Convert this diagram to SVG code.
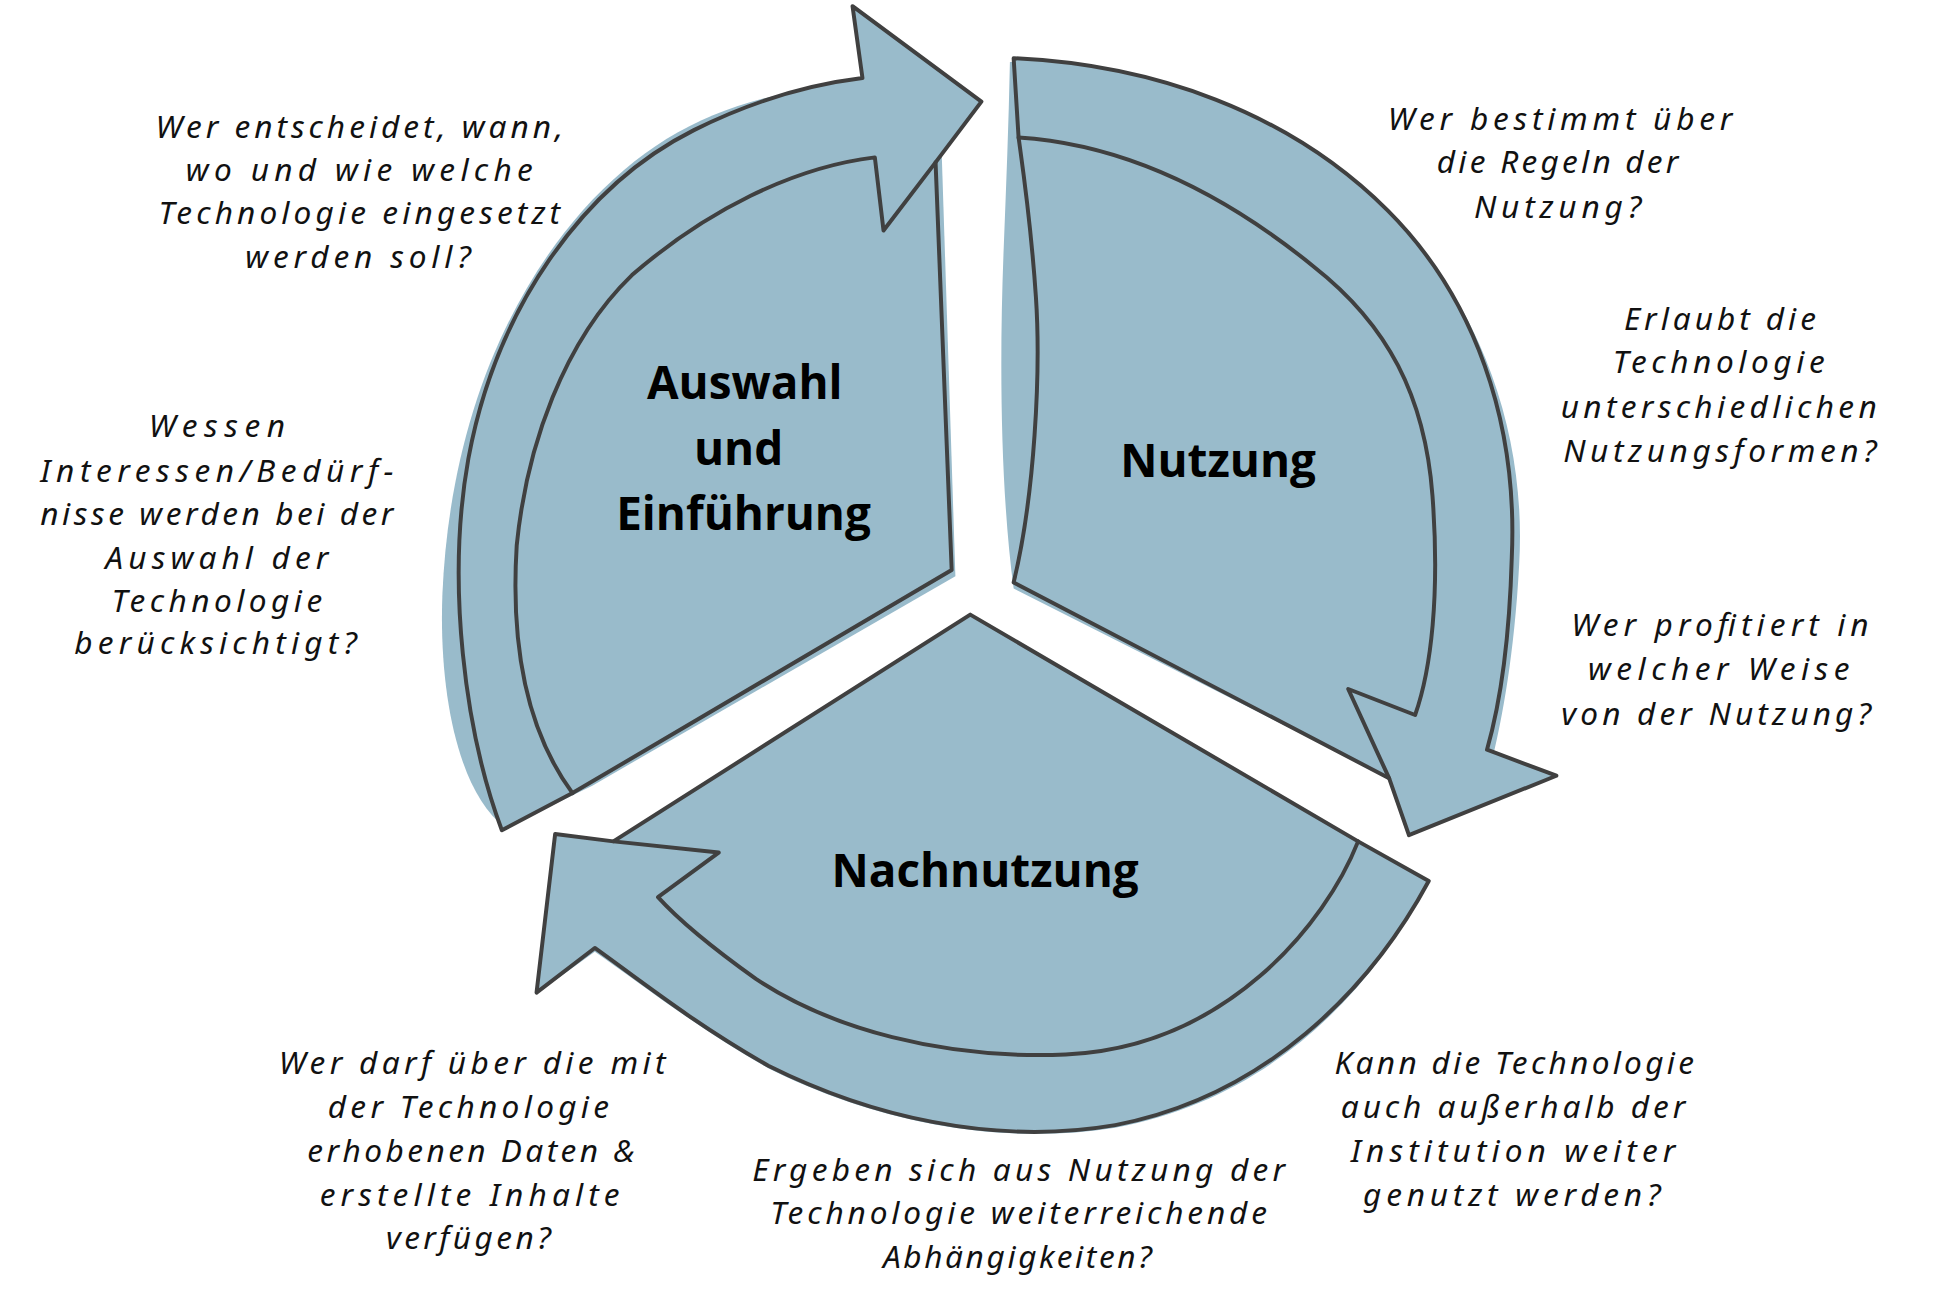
<svg xmlns="http://www.w3.org/2000/svg" width="1943" height="1306" viewBox="0 0 1943 1306">
<style>
.blob{fill:#99bbcb;stroke:none}
.shape{fill:#99bbcb;stroke:#404040;stroke-width:3.2;stroke-linejoin:round;stroke-linecap:round}
.line{fill:none;stroke:#404040;stroke-width:3.2;stroke-linejoin:round;stroke-linecap:round}
.lbl{font-family:"Open Sans","Noto Sans",sans-serif;font-weight:700;font-size:37px;fill:#000;text-anchor:middle}
.q{font-family:"Noto Sans","DejaVu Sans",sans-serif;font-style:italic;font-size:25.5px;fill:#111;text-anchor:middle}
</style>
<rect width="1943" height="1306" fill="#ffffff"/>
<g transform="scale(1.23916)">
<g id="connectors">
<g id="arrow-auswahl">
<path class="blob" d="M408,668 C370,640 354,560 357,480 C362,360 400,250 470,170 C520,115 570,88 640,74 L700,70 L760,125 L771,465 L478,634 Z"/>
<path class="shape" d="M405,670 C375,590 360,470 378,370 C400,250 470,150 560,105 C610,80 655,68 696,63 L688,5 L792,82 L755,131 C760,240 763,350 768,460 L462,640 Z"/>
<path class="line" d="M755,131 L713,186 L706,127 C640,135 570,170 510,222 C455,275 425,360 417,440 C412,520 425,590 462,640"/>
</g>
<g id="arrow-nutzung">
<path class="blob" d="M815,50 C930,52 1040,90 1120,170 C1195,245 1232,350 1226,455 C1222,530 1212,580 1205,610 L1255,626 L1137,674 L1121,628 L818,475 C808,400 806,300 810,200 C812,150 814,100 815,50 Z"/>
<path class="shape" d="M818,47 C930,52 1040,90 1120,170 C1190,240 1225,340 1220,450 C1218,520 1210,570 1200,605 L1256,626 L1137,674 L1121,628 L818,470 C835,400 840,300 836,240 C832,180 826,140 822,111 Z"/>
<path class="line" d="M822,111 C900,116 980,150 1060,215 C1120,262 1150,320 1156,400 C1162,480 1155,540 1142,577 L1088,556 L1121,628"/>
</g>
<g id="arrow-nachnutzung">
<path class="blob" d="M1150,716 C1103,806 1020,888 900,910 C800,926 700,902 620,862 C560,828 515,792 480,768 L433,802 L447,675 L505,684 L783,500 L1098,683 Z"/>
<path class="shape" d="M1153,711 C1105,800 1020,885 900,908 C800,925 700,900 620,860 C560,826 515,790 480,765 L433,801 L448,673 L495,679 L783,496 L1096,679 Z"/>
<path class="line" d="M1096,679 C1070,745 990,845 860,851 C760,855 670,830 610,790 C575,765 550,745 531,724 L580,688 L495,679"/>
</g>
</g>
<g id="node-auswahl">
<text class="lbl" x="601" y="322">Auswahl</text>
<text class="lbl" x="596" y="375">und</text>
<text class="lbl" x="600" y="428">Einführung</text>
</g>
<g id="node-nutzung">
<text class="lbl" x="983" y="385">Nutzung</text>
</g>
<g id="node-nachnutzung">
<text class="lbl" x="795" y="716">Nachnutzung</text>
</g>
<g id="q-entscheidet">
<text class="q" x="290" y="111" textLength="329" lengthAdjust="spacing">Wer entscheidet, wann,</text>
<text class="q" x="290" y="146" textLength="280" lengthAdjust="spacing">wo und wie welche</text>
<text class="q" x="290" y="181" textLength="324" lengthAdjust="spacing">Technologie eingesetzt</text>
<text class="q" x="289" y="216" textLength="182" lengthAdjust="spacing">werden soll?</text>
</g>
<g id="q-interessen">
<text class="q" x="175" y="353" textLength="110" lengthAdjust="spacing">Wessen</text>
<text class="q" x="175" y="389" textLength="285" lengthAdjust="spacing">Interessen/Bedürf-</text>
<text class="q" x="175" y="424" textLength="285" lengthAdjust="spacing">nisse werden bei der</text>
<text class="q" x="175" y="459" textLength="180" lengthAdjust="spacing">Auswahl der</text>
<text class="q" x="175" y="494" textLength="170" lengthAdjust="spacing">Technologie</text>
<text class="q" x="174" y="528" textLength="228" lengthAdjust="spacing">berücksichtigt?</text>
</g>
<g id="q-regeln">
<text class="q" x="1259" y="105" textLength="278" lengthAdjust="spacing">Wer bestimmt über</text>
<text class="q" x="1257" y="140" textLength="195" lengthAdjust="spacing">die Regeln der</text>
<text class="q" x="1257" y="176" textLength="135" lengthAdjust="spacing">Nutzung?</text>
</g>
<g id="q-nutzungsformen">
<text class="q" x="1388" y="266" textLength="155" lengthAdjust="spacing">Erlaubt die</text>
<text class="q" x="1387" y="301" textLength="171" lengthAdjust="spacing">Technologie</text>
<text class="q" x="1387" y="337" textLength="255" lengthAdjust="spacing">unterschiedlichen</text>
<text class="q" x="1388" y="373" textLength="253" lengthAdjust="spacing">Nutzungsformen?</text>
</g>
<g id="q-profitiert">
<text class="q" x="1388" y="513" textLength="240" lengthAdjust="spacing">Wer profitiert in</text>
<text class="q" x="1387" y="549" textLength="211" lengthAdjust="spacing">welcher Weise</text>
<text class="q" x="1385" y="585" textLength="250" lengthAdjust="spacing">von der Nutzung?</text>
</g>
<g id="q-daten">
<text class="q" x="381" y="867" textLength="312" lengthAdjust="spacing">Wer darf über die mit</text>
<text class="q" x="378" y="902" textLength="227" lengthAdjust="spacing">der Technologie</text>
<text class="q" x="380" y="938" textLength="264" lengthAdjust="spacing">erhobenen Daten &amp;</text>
<text class="q" x="379" y="973" textLength="242" lengthAdjust="spacing">erstellte Inhalte</text>
<text class="q" x="378" y="1008" textLength="133" lengthAdjust="spacing">verfügen?</text>
</g>
<g id="q-abhaengigkeiten">
<text class="q" x="822" y="953" textLength="430" lengthAdjust="spacing">Ergeben sich aus Nutzung der</text>
<text class="q" x="822" y="988" textLength="401" lengthAdjust="spacing">Technologie weiterreichende</text>
<text class="q" x="821" y="1023" textLength="217" lengthAdjust="spacing">Abhängigkeiten?</text>
</g>
<g id="q-institution">
<text class="q" x="1222" y="867" textLength="290" lengthAdjust="spacing">Kann die Technologie</text>
<text class="q" x="1221" y="902" textLength="278" lengthAdjust="spacing">auch außerhalb der</text>
<text class="q" x="1221" y="938" textLength="262" lengthAdjust="spacing">Institution weiter</text>
<text class="q" x="1220" y="973" textLength="240" lengthAdjust="spacing">genutzt werden?</text>
</g>
</g>
</svg>
